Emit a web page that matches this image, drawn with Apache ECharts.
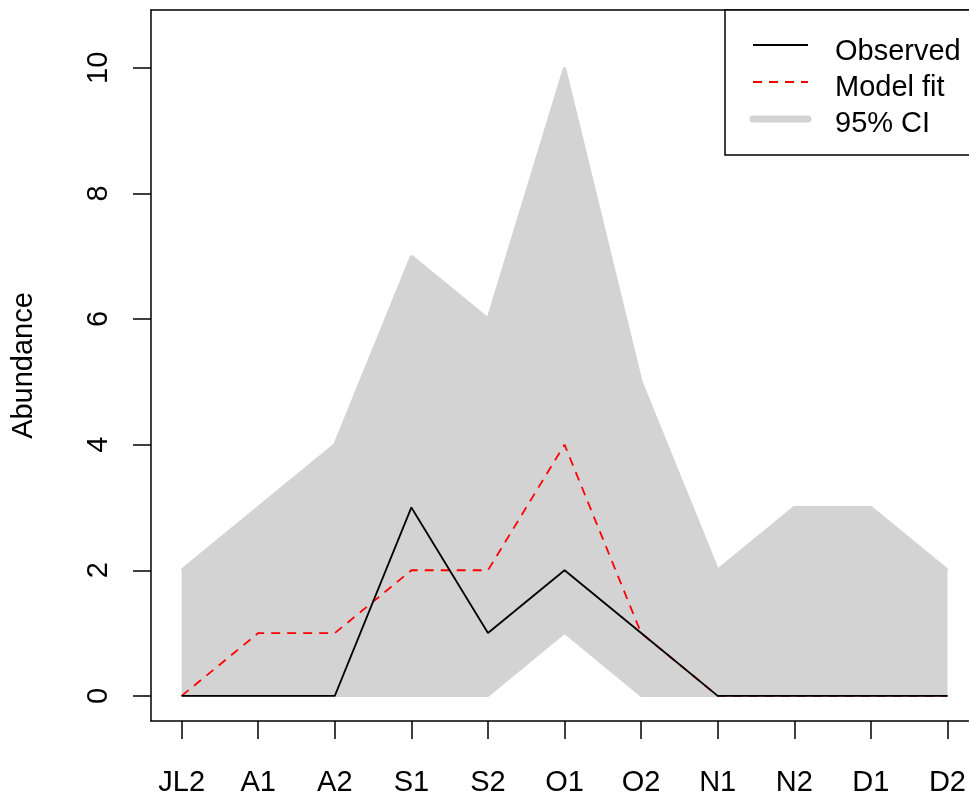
<!DOCTYPE html>
<html>
<head>
<meta charset="utf-8">
<script src="https://cdn.jsdelivr.net/npm/echarts@6/dist/echarts.min.js"></script>
<style>
  html, body { margin: 0; padding: 0; background: #fff; }
  #chart { width: 969px; height: 797px; }
</style>
</head>
<body>
<div id="chart"></div>
<script>
// sampling periods along x
const periods = ['JL2', 'A1', 'A2', 'S1', 'S2', 'O1', 'O2', 'N1', 'N2', 'D1', 'D2'];
const observed = [0, 0, 0, 3, 1, 2, 1, 0, 0, 0, 0];
const modelFit = [0, 1, 1, 2, 2, 4, 1, 0, 0, 0, 0];
const ciLower = [0, 0, 0, 0, 0, 1, 0, 0, 0, 0, 0];
const ciUpper = [2, 3, 4, 7, 6, 10, 5, 2, 3, 3, 2];
const yTicks = [0, 2, 4, 6, 8, 10];

const font = 'Liberation Sans, Arial, sans-serif';
const fs = 29;
const xPos = periods.map((p, i) => i + 1);
const pairs = vals => vals.map((v, i) => [i + 1, v]);

const chart = echarts.init(document.getElementById('chart'));

// plot box runs past the right edge of the picture
const xMin = 0.6, xMax = 11.274;

const option = {
  animation: false,
  grid: { left: 151, top: 10, right: 0, bottom: 74 },
  xAxis: [
    {
      type: 'value',
      min: xMin, max: xMax,
      splitLine: { show: false },
      axisLine: { show: true, onZero: false, lineStyle: { color: '#000', width: 1.5 } },
      axisTick: { show: true, customValues: xPos, length: 18, lineStyle: { color: '#000', width: 1.5 } },
      axisLabel: {
        customValues: xPos,
        formatter: v => periods[Math.round(v) - 1] || '',
        color: '#000', fontSize: fs, fontFamily: font, margin: 47
      }
    },
    {
      // top side of the box
      type: 'value',
      position: 'top',
      min: xMin, max: xMax,
      splitLine: { show: false },
      axisLine: { show: true, onZero: false, lineStyle: { color: '#000', width: 1.5 } },
      axisTick: { show: false },
      axisLabel: { show: false }
    }
  ],
  yAxis: {
    type: 'value',
    min: -0.4, max: 10.92,
    name: 'Abundance',
    nameLocation: 'middle',
    nameRotate: 90,
    nameGap: 113,
    nameTextStyle: { color: '#000', fontSize: fs, fontFamily: font },
    splitLine: { show: false },
    axisLine: { show: true, onZero: false, lineStyle: { color: '#000', width: 1.5 } },
    axisTick: { show: true, customValues: yTicks, length: 18, lineStyle: { color: '#000', width: 1.5 } },
    axisLabel: {
      customValues: yTicks,
      rotate: 90,
      color: '#000', fontSize: fs, fontFamily: font, margin: 38
    }
  },
  series: [
    {
      // CI upper bound filled down to zero
      name: '95% CI',
      type: 'line',
      data: pairs(ciUpper),
      symbol: 'none',
      lineStyle: { color: '#d3d3d3', width: 3 },
      areaStyle: { color: '#d3d3d3', opacity: 1 },
      silent: true,
      z: 1
    },
    {
      // CI lower bound: clear the area below it
      name: 'ciLower',
      type: 'line',
      data: pairs(ciLower),
      symbol: 'none',
      lineStyle: { color: '#d3d3d3', width: 2 },
      areaStyle: { color: '#fff', opacity: 1 },
      silent: true,
      z: 2
    },
    {
      name: 'Model fit',
      type: 'line',
      data: pairs(modelFit),
      symbol: 'none',
      lineStyle: { color: '#ff0000', width: 1.8, type: [9, 7] },
      z: 3
    },
    {
      name: 'Observed',
      type: 'line',
      data: pairs(observed),
      symbol: 'none',
      lineStyle: { color: '#000', width: 1.8 },
      z: 4
    }
  ],
  graphic: {
    elements: [
      { type: 'rect', shape: { x: 725, y: 10, width: 260, height: 145 },
        style: { fill: '#fff', stroke: '#000', lineWidth: 1.5 }, z: 10 },
      { type: 'line', shape: { x1: 753, y1: 45, x2: 808, y2: 45 },
        style: { stroke: '#000', lineWidth: 1.8 }, z: 11 },
      { type: 'line', shape: { x1: 753, y1: 82, x2: 808, y2: 82 },
        style: { stroke: '#ff0000', lineWidth: 1.8, lineDash: [9, 7] }, z: 11 },
      { type: 'line', shape: { x1: 753, y1: 119, x2: 808, y2: 119 },
        style: { stroke: '#d3d3d3', lineWidth: 7, lineCap: 'round' }, z: 11 },
      { type: 'text', x: 835, y: 52, style: { text: 'Observed', font: fs + 'px ' + font, fill: '#000', verticalAlign: 'middle' }, z: 11 },
      { type: 'text', x: 835, y: 88, style: { text: 'Model fit', font: fs + 'px ' + font, fill: '#000', verticalAlign: 'middle' }, z: 11 },
      { type: 'text', x: 835, y: 124, style: { text: '95% CI', font: fs + 'px ' + font, fill: '#000', verticalAlign: 'middle' }, z: 11 }
    ]
  }
};

chart.setOption(option);
</script>
</body>
</html>
